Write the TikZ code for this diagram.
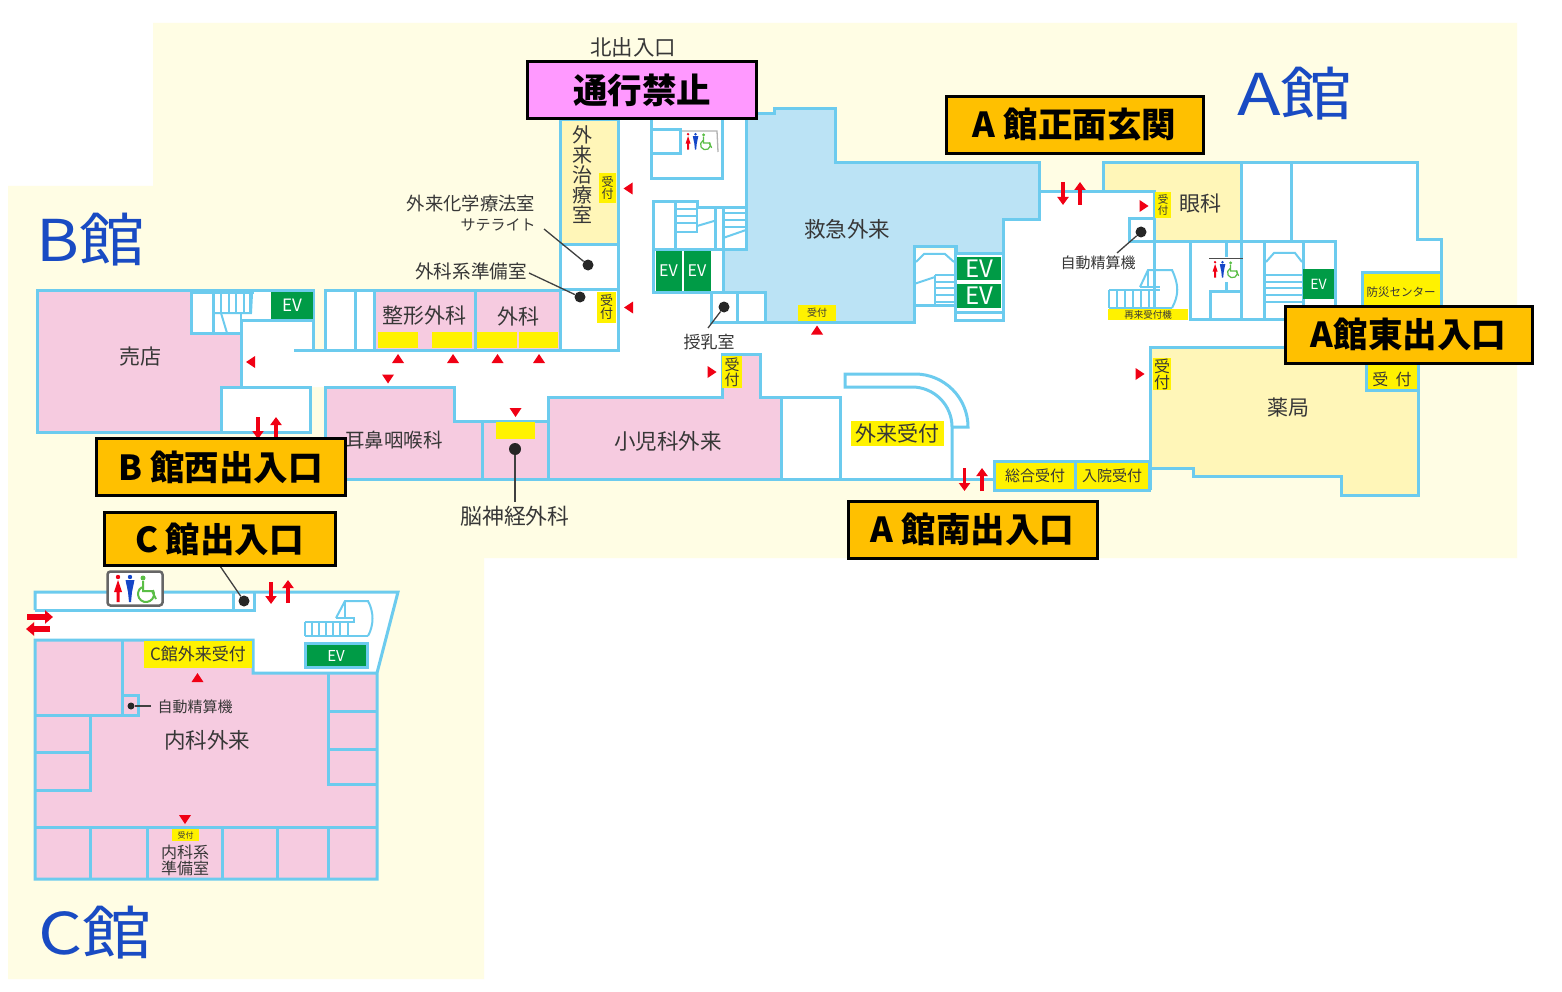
\documentclass[tikz,border=0pt]{standalone}
\usepackage{graphicx}
\usepackage{fontspec}
\setmainfont{Noto Sans CJK JP}
\usetikzlibrary{arrows.meta}
\definecolor{bgc}{RGB}{255,253,228}
\definecolor{wallc}{RGB}{108,203,238}
\definecolor{pinkc}{RGB}{246,203,224}
\definecolor{creamc}{RGB}{255,246,184}
\definecolor{bluec}{RGB}{187,227,245}
\definecolor{evc}{RGB}{0,155,70}
\definecolor{goldc}{RGB}{255,192,0}
\definecolor{magc}{RGB}{255,153,255}
\definecolor{txtc}{RGB}{55,55,55}
\definecolor{bigc}{RGB}{25,75,195}
\definecolor{redc}{RGB}{240,0,20}
\definecolor{wblue}{RGB}{20,70,200}
\definecolor{wgreen}{RGB}{90,190,70}
\newcommand{\fz}[1]{\fontsize{#1}{#1}\selectfont}
\newcommand{\tU}[2]{\fill[redc] (#1,#2) ++(-6,4.5) -- ++(12,0) -- ++(-6,-9) -- cycle;}
\newcommand{\tD}[2]{\fill[redc] (#1,#2) ++(-6,-4.5) -- ++(12,0) -- ++(-6,9) -- cycle;}
\newcommand{\tL}[2]{\fill[redc] (#1,#2) ++(4.5,-6) -- ++(0,12) -- ++(-9,-6) -- cycle;}
\newcommand{\tR}[2]{\fill[redc] (#1,#2) ++(-4.5,-6) -- ++(0,12) -- ++(9,-6) -- cycle;}
% toilet pictogram: #1 x, #2 y (top left), #3 scale
\newcommand{\wcsign}[3]{%
\begin{scope}[shift={(#1,#2)},x=#3pt,y=-#3pt]
\fill[redc] (5,2) circle[radius=2.2];
\fill[redc] (5,5) -- (9,17) -- (6.5,17) -- (6.5,27) -- (3.5,27) -- (3.5,17) -- (1,17) -- cycle;
\fill[wblue] (17,2) circle[radius=2.2];
\fill[wblue] (12.5,5) -- (21.5,5) -- (19,17) -- (18,27) -- (16,27) -- (15,17) -- cycle;
\fill[wgreen] (30,3) circle[radius=2.5];
\draw[wgreen,line width=2*#3pt] (30,6) -- (30,16) -- (39,16) -- (43,24);
\draw[wgreen,line width=2*#3pt] (29,12.1) arc[start angle=-120,end angle=-390,radius=8];
\end{scope}}
\tikzset{
 wl/.style={draw=wallc,line width=3,line join=miter},
 thin wl/.style={draw=wallc,line width=2},
 lab/.style={draw=black,line width=3,fill=goldc,font=\fz{34.5}\bfseries,text=black,inner sep=0,anchor=center},
 room/.style={text=txtc,inner sep=0,align=center,anchor=center},
 yel/.style={fill=yellow,draw=none},
 evbox/.style={fill=evc,draw=none,text=white,inner sep=0,anchor=center},
 bigt/.style={text=bigc,font=\fz{64},inner sep=0,anchor=center},
 dotn/.style={circle,fill=black!85,inner sep=0,minimum size=11},
 lead/.style={draw=black!75,line width=1.3},
 rarr/.style={draw=redc,line width=3.8,-{Triangle[width=11,length=8]}},
}
\begin{document}
\begin{tikzpicture}[x=1pt,y=-1pt]
\useasboundingbox (0,0) rectangle (1562,992);
\fill[white] (0,0) rectangle (1562,992);
% site
\fill[bgc] (153,23) -- (1517,23) -- (1517,558) -- (484,558) -- (484,979) -- (8,979) -- (8,186) -- (153,186) -- cycle;
% ---------------- white floors
\fill[white] (241,320) -- (313,320) -- (313,350) -- (618,350) -- (618,120) -- (746,120) -- (746,250) -- (1003,250) -- (1003,220) -- (1039,220) -- (1039,192) -- (1154,192) -- (1154,242) -- (1241,242) -- (1241,163) -- (1417,163) -- (1417,240) -- (1441,240) -- (1441,347) -- (1150,347) -- (1150,461) -- (994,461) -- (994,479) -- (325,479) -- (325,387) -- (310,387) -- (310,432) -- (221,432) -- (221,387) -- (241,387) -- cycle;
\fill[white] (192,290) rectangle (313,333);
\fill[white] (325,290) rectangle (374,350);
\fill[white] (560,245) rectangle (618,350);
% ---------------- B wing
\draw[wl,fill=pinkc] (191,290) -- (37,290) -- (37,432) -- (221,432) -- (221,387) -- (241,387) -- (241,333) -- (191,333) -- cycle;
\draw[wl] (221,387) -- (310,387) -- (310,432) -- (221,432);
\draw[wl] (191,290) -- (313,290) -- (313,350);
\draw[wl] (241,333) -- (241,320) -- (313,320);
\draw[wl] (213,294) -- (213,333);
\draw[thin wl] (192,293) -- (254,293);
\foreach \x in {221,229,236,244,250}{\draw[thin wl] (\x,294) -- (\x,313);}
\draw[thin wl] (213,313) -- (251,313) -- (252,294);
\draw[thin wl] (221,313) -- (227,333);
\draw[thin wl] (241,313) -- (241,333);
\node[evbox,minimum width=42,minimum height=27,font=\fz{17}] (evb) at (292,305) {EV};
\node[room,font=\fz{21}] (baiten) at (140,357) {売店};
% row of rooms
\fill[pinkc] (374,290) rectangle (560,350);
\draw[wl] (294,350) -- (619,350);
\draw[wl] (325,350) -- (325,290) -- (560,290);
\foreach \x in {355,374,475,560}{\draw[wl] (\x,290) -- (\x,350);}
\fill[yellow] (378,332) rectangle (418,348);
\fill[yellow] (432,332) rectangle (472,348);
\fill[yellow] (477,332) rectangle (517,348);
\fill[yellow] (519,332) rectangle (558,348);
\node[room,font=\fz{21}] (seikei) at (424,316) {整形外科};
\node[room,font=\fz{21}] (geka) at (518,316) {外科};
% ENT etc
\draw[wl,fill=pinkc] (325,479) -- (325,387) -- (454,387) -- (454,421) -- (548,421) -- (548,479) -- cycle;
\draw[wl] (482,421) -- (482,479);
\fill[yellow] (496,422) rectangle (535,439);
\node[room,font=\fz{19.5}] (jibi) at (394,440) {耳鼻咽喉科};
% pediatrics
\draw[wl,fill=pinkc] (548,479) -- (548,397) -- (722,397) -- (722,354) -- (760,354) -- (760,397) -- (781,397) -- (781,479) -- cycle;
\draw[wl] (781,397) -- (840,397) -- (840,479);
\node[room,font=\fz{21.5}] (shoni) at (668,441) {小児科外来};
\node[yel,room,text=txtc,minimum width=20,minimum height=32,font=\fz{15}] (uk1) at (732,372) {受\\付};
% reception curve
\draw[wl] (952,479) -- (952,427) arc[start angle=0,end angle=-90,radius=40] -- (845,387) -- (845,374) -- (915,374) arc[start angle=-90,end angle=0,radius=53] -- (952,427);
\node[yel,room,minimum width=93,minimum height=25,font=\fz{21}] (gairai) at (897,433) {外来受付};
\draw[wl] (325,479) -- (994,479);
% ---------------- A wing centre
\draw[wl,fill=creamc] (560,120) rectangle (618,245);
\draw[wl] (560,245) -- (560,350) -- (618,350) -- (618,245);
\draw[wl] (560,289) -- (618,289);
\node[room,font=\fz{20}] (chiryo) at (582,175) {外\\来\\治\\療\\室};
\node[yel,room,minimum width=17,minimum height=30,font=\fz{12}] (uk2) at (607.5,188) {受\\付};
\node[yel,room,minimum width=19,minimum height=31,font=\fz{13}] (uk3) at (606.5,307.5) {受\\付};
% restroom block
\draw[wl] (651,120) -- (651,179) -- (722,179) -- (722,120);
\draw[wl] (651,130) -- (680,130) -- (680,154) -- (651,154);
\draw[draw=black!30,line width=1.3] (682,131) -- (717,131) -- (718,152);
\wcsign{685}{133}{0.62}
% emergency
\draw[wl,fill=bluec] (746,114) -- (774,114) -- (774,109) -- (835,109) -- (835,163) -- (1039,163) -- (1039,220) -- (1003,220) -- (1003,254) -- (956,254) -- (956,247) -- (914,247) -- (914,322) -- (765,322) -- (765,292) -- (723,292) -- (723,250) -- (746,250) -- cycle;
\node[room,font=\fz{21.5}] (kyukyu) at (847,229) {救急外来};
\node[yel,room,minimum width=38,minimum height=16,font=\fz{10}] (uk4) at (817,313) {受付};
% left stair block
\draw[wl] (653,250) -- (653,202) -- (697,202) -- (697,208) -- (746,208);
\draw[wl] (653,250) -- (746,250);
\draw[wl] (653,250) -- (653,292) -- (723,292);
\draw[wl] (675,202) -- (675,250);
\draw[thin wl] (697,202) -- (697,232) -- (675,232);
\foreach \y in {209,216,223}{\draw[thin wl] (675,\y) -- (697,\y);}
\foreach \y in {213,220,227}{\draw[thin wl] (723,\y) -- (746,\y);}
\draw[wl] (715,208) -- (715,250);
\draw[wl] (723,208) -- (723,292);
\draw[thin wl] (723,238) -- (746,230);
\draw[thin wl] (697,226) -- (714,221);
\node[evbox,minimum width=26,minimum height=40,font=\fz{16}] (eva) at (668.5,271) {EV};
\node[evbox,minimum width=27,minimum height=40,font=\fz{16}] (evc) at (697,271) {EV};
\draw[wl] (711,292) -- (711,322) -- (765,322);
\draw[wl] (737,292) -- (737,322);
% right stair block
\draw[wl] (914,247) -- (955,247) -- (955,320) -- (1003,320) -- (1003,254);
\draw[wl] (914,322) -- (914,305) -- (955,305);
\draw[thin wl] (916,262) -- (924,254) -- (945,254) -- (954,262);
\draw[thin wl] (935,275) -- (935,305);
\draw[thin wl] (914,284) -- (935,277);
\foreach \y in {275,282,288,295,302}{\draw[thin wl] (935,\y) -- (955,\y);}
\draw[wl] (956,312) -- (1003,312);
\node[evbox,minimum width=44,minimum height=23,font=\fz{24}] (eve) at (979,268.5) {EV};
\node[evbox,minimum width=44,minimum height=24,font=\fz{24}] (evf) at (979,296) {EV};
% ---------------- A wing east
\draw[wl] (1039,192) -- (1154,192);
\draw[wl,fill=creamc] (1103,192) -- (1103,163) -- (1241,163) -- (1241,242) -- (1154,242) -- (1154,192) -- cycle;
\draw[wl] (1241,163) -- (1417,163) -- (1417,240) -- (1441,240) -- (1441,305);
\draw[wl] (1291,163) -- (1291,242);
\draw[wl] (1129,242) -- (1335,242) -- (1335,305);
\draw[wl] (1129,242) -- (1129,219) -- (1154,219);
\node[yel,room,minimum width=16,minimum height=26,font=\fz{10.5}] (uk5) at (1163,205) {受\\付};
\node[room,font=\fz{21}] (ganka) at (1200,204) {眼科};
\draw[wl] (1154,242) -- (1154,320);
\draw[wl] (1190,242) -- (1190,319) -- (1300,319);
\draw[wl] (1241,242) -- (1241,319);
\draw[wl] (1264,242) -- (1264,319);
\draw[wl] (1303,242) -- (1303,319);
\draw[wl] (1210,319) -- (1210,291) -- (1241,291);
\draw[wl] (1226,242) -- (1226,257) (1226,282) -- (1226,291);
\draw[black!70,line width=1] (1209,258) -- (1243,258);
\wcsign{1212}{261}{0.62}
\draw[thin wl] (1266,262) -- (1274,253) -- (1295,253) -- (1302,262);
\foreach \y in {275,282,288,295,302}{\draw[thin wl] (1264,\y) -- (1303,\y);}
\node[evbox,minimum width=31,minimum height=30,font=\fz{14}] (evg) at (1318.5,284) {EV};
% stairs near 再来受付機
\foreach \x in {1109,1117,1125,1133,1141,1149}{\draw[thin wl] (\x,290) -- (\x,308);}
\draw[thin wl] (1109,290) -- (1160,290) (1109,308) -- (1172,308);
\draw[thin wl] (1140,287) -- (1148,270) -- (1172,270) .. controls (1179,285) and (1179,295) .. (1172,308);
\draw[thin wl] (1148,270) -- (1148,287) (1140,287) -- (1160,287);
\node[yel,room,minimum width=80,minimum height=11,font=\fz{9.5}] (sairai) at (1148,314.5) {再来受付機};
% pharmacy
\draw[wl,fill=creamc] (1150,490) -- (1150,347) -- (1418,347) -- (1418,495) -- (1341,495) -- (1341,476) -- (1193,476) -- (1193,468) -- (1150,468);
\draw[wl] (1150,347) -- (1150,461);
\node[yel,room,minimum width=18,minimum height=32,font=\fz{16}] (uk6) at (1162,374) {受\\付};
\node[room,font=\fz{21}] (yakkyoku) at (1288,408) {薬局};
\draw[wl,fill=yellow] (1366,355) -- (1366,390) -- (1418,390) -- (1418,355);
\node[room,font=\fz{16}] (uk7) at (1392,379) {受\ \ 付};
\draw[wl,fill=yellow] (1362,305) -- (1362,272) -- (1441,272) -- (1441,305);
\node[room,font=\fz{11.5}] (bousai) at (1401,292) {防災センター};
\draw[wl,fill=yellow] (994,461) rectangle (1075,490);
\draw[wl,fill=yellow] (1075,461) rectangle (1149,490);
\node[room,font=\fz{15}] (sogo) at (1035,476) {総合受付};
\node[room,font=\fz{15}] (nyuin) at (1112,476) {入院受付};
% ---------------- C wing
\fill[white] (35,592) -- (398,592) -- (377,673) -- (253,673) -- (253,640) -- (35,640) -- cycle;
\fill[pinkc] (35,640) -- (253,640) -- (253,673) -- (377,673) -- (377,879) -- (35,879) -- cycle;
\draw[wl] (35,610) -- (35,592) -- (398,592) -- (377,673) -- (253,673) -- (253,640) -- (35,640) -- (35,879) -- (377,879) -- (377,673);
\draw[wl] (35,610) -- (254,610) -- (254,592) (233,592) -- (233,610);
\draw[wl] (122,640) -- (122,715) -- (35,715) (122,695) -- (138,695) -- (138,715) -- (122,715);
\draw[wl] (90,715) -- (90,790) -- (35,790) (35,752) -- (90,752);
\draw[wl] (328,673) -- (328,784) -- (377,784) (328,711) -- (377,711) (328,749) -- (377,749);
\draw[wl] (35,827) -- (377,827);
\foreach \x in {90,147,222,277,328}{\draw[wl] (\x,827) -- (\x,879);}
\node[yel,room,minimum width=108,minimum height=27,font=\fz{17}] (cuke) at (198,654.5) {C館外来受付};
\node[room,font=\fz{21.5}] (naika) at (207,740) {内科外来};
\node[room,font=\fz{15}] (cseisan) at (195,707) {自動精算機};
\node[yel,room,minimum width=27,minimum height=12,font=\fz{8}] (uk8) at (185.5,835) {受付};
\node[room,font=\fz{16}] (junbi) at (185,860) {内科系\\準備室};
\draw[wl,fill=evc] (305,643) rectangle (367,667);
\node[evbox,fill=none,font=\fz{15}] (evh) at (336,656) {EV};
\foreach \x in {305,312,319,326,333,340,348}{\draw[thin wl] (\x,622) -- (\x,636);}
\draw[thin wl] (305,622) -- (354,622) -- (354,618) -- (336,618) (305,636) -- (368,636);
\draw[thin wl] (336,618) -- (345,601) -- (368,601) .. controls (374,612) and (374,625) .. (368,636);
\draw[thin wl] (345,601) -- (345,618);
\node[draw=black!60,line width=2.5,fill=white,rounded corners=3,minimum width=55,minimum height=34,inner sep=0] (csign) at (135,588.5) {};
\wcsign{113}{575}{1}
% ---------------- markers (triangles)
\tU{398}{358.5}\tU{453}{358.5}\tU{497.5}{358.5}\tU{539}{358.5}
\tD{388}{379}\tD{515.5}{412.5}
\tL{250.5}{362}\tL{628}{188.5}\tL{628.5}{307.5}
\tR{712}{372}\tR{1140}{374}\tR{1144}{206}
\tU{817}{330}\tU{197.5}{677.5}\tD{185}{819.5}
% ---------------- entry arrows
\draw[rarr] (258,417) -- (258,439);
\draw[rarr] (276,439) -- (276,417);
\draw[rarr] (964.5,468) -- (964.5,491);
\draw[rarr] (982,491) -- (982,468);
\draw[rarr] (1063,182) -- (1063,205);
\draw[rarr] (1080,205) -- (1080,182);
\draw[rarr] (271,582) -- (271,604);
\draw[rarr] (288,603) -- (288,580);
\draw[rarr,line width=5.5,-{Triangle[width=13,length=8]}] (27,617) -- (53,617);
\draw[rarr,line width=5.5,-{Triangle[width=13,length=8]}] (50,629) -- (26,629);
% ---------------- dots and leaders
\node[dotn] (d1) at (588,265) {};
\node[dotn] (d2) at (580,297) {};
\node[dotn] (d3) at (724,307) {};
\node[dotn,minimum size=12] (d4) at (515,449) {};
\node[dotn] (d5) at (1141,232) {};
\node[dotn] (d6) at (244,601) {};
\node[dotn,minimum size=7] (d7) at (131,706) {};
\node[room,font=\fz{18.3}] (kagaku) at (471,204) {外来化学療法室};
\node[room,font=\fz{15}] (sate) at (498,225) {サテライト};
\node[room,font=\fz{18.6}] (junbi2) at (471,271) {外科系準備室};
\node[room,font=\fz{17}] (junyu) at (709,342) {授乳室};
\node[room,font=\fz{21.8}] (noshin) at (515,516) {脳神経外科};
\node[room,font=\fz{15}] (aseisan) at (1098,263) {自動精算機};
\node[room,font=\fz{21.5}] (kita) at (633,47) {北出入口};
\coordinate (c1) at (544,229);
\coordinate (c2) at (529,273);
\coordinate (c3) at (708,328);
\coordinate (c4) at (515,502);
\coordinate (c5) at (1117,253);
\coordinate (c6) at (220,566);
\coordinate (c7) at (151,706);
\draw[lead] (c1) -- (d1);
\draw[lead] (c2) -- (d2);
\draw[lead] (c3) -- (d3);
\draw[lead] (c4) -- (d4);
\draw[lead] (c5) -- (d5);
\draw[lead] (c6) -- (d6);
\draw[lead] (c7) -- (d7);
% ---------------- callouts
\node[lab,fill=magc,minimum width=229,minimum height=57] (tsuko) at (642,90) {通行禁止};
\node[lab,minimum width=257,minimum height=57] (shomen) at (1074.5,125) {A 館正面玄関};
\node[lab,minimum width=247,minimum height=57] (higashi) at (1408.5,334.5) {A館東出入口};
\node[lab,minimum width=249,minimum height=57] (nishi) at (220.5,467) {B 館西出入口};
\node[lab,minimum width=231,minimum height=53] (cdeiri) at (219.5,539) {C 館出入口};
\node[lab,minimum width=249,minimum height=57] (minami) at (972.5,529.5) {A 館南出入口};
\node[bigt] (abig) at (1295,94) {\scalebox{1.12}[0.9]{A館}};
\node[bigt] (bbig) at (91,240) {\scalebox{1.02}[0.9]{B館}};
\node[bigt] (cbig) at (95,933) {\scalebox{1.08}[0.9]{C館}};
\end{tikzpicture}
\end{document}
